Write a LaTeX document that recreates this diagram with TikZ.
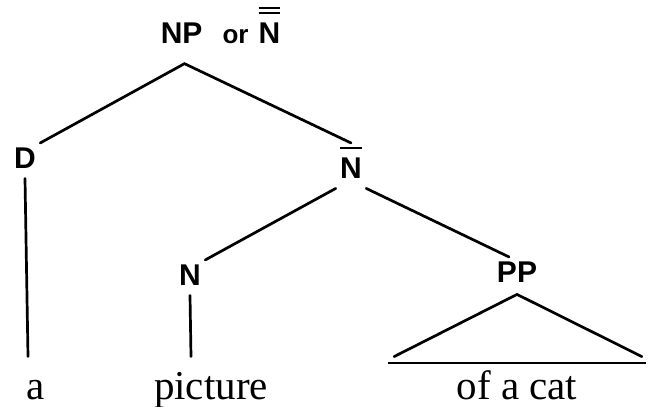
\documentclass[tikz,border=0pt]{standalone}
\usepackage{fontspec}
\setmainfont{Liberation Serif}
\newfontfamily\labfont{Liberation Sans}
\usepackage{tikz}
\newcommand{\singlebar}[1]{\setbox0\hbox{#1}\vbox{\hrule height 1pt width \wd0\kern 4pt\box0}}
\newcommand{\doublebar}[1]{\setbox0\hbox{#1}\vbox{\hrule height 1pt width \wd0\kern 1.5pt\hrule height 1pt width \wd0\kern 4pt\box0}}
\tikzstyle{catlab} = [anchor=base, inner sep=2pt, font=\labfont\bfseries\fontsize{15}{15}\selectfont]
\tikzstyle{word} = [anchor=base, inner sep=0pt, text height=18pt, text depth=0pt, font=\fontsize{20.5}{20.5}\selectfont]
\tikzset{branch/.style={line width=1.35pt, line cap=round}}

\begin{document}
\begin{tikzpicture}[x=0.5pt, y=-0.5pt]
			\useasboundingbox (0,0) rectangle (649,407);
			\node (root) [catlab] at (220.5,43) {NP\hspace{10pt}{\fontsize{13}{13}\selectfont or}\hspace{5pt}\doublebar{N}};
			\node (D) [catlab] at (25,168) {D};
			\node (Nbar) [catlab] at (351,178) {\singlebar{N}};
			\node (N) [catlab] at (190,285) {N};
			\node (PP) [catlab] at (517,282) {PP};
			\node (a) [word] at (36,399) {a};
			\node (pic) [word] at (211,399) {picture};
			\node (cat) [word, minimum width=128.5pt] at (517,399) {of a cat};
			
			
			\draw [branch] (D.north east) -- ([xshift=-18pt,yshift=-8pt]root.south) -- (Nbar.north);
			\draw [branch] ([yshift=-3pt]Nbar.south west) -- (N.north east);
			\draw [branch] ([yshift=-3pt]Nbar.south east) -- ([xshift=-4pt]PP.north);
			\draw [branch] ([yshift=-3pt]D.south) -- ([xshift=-4pt,yshift=3pt]a.north);
			\draw [branch] ([yshift=-3pt]N.south) -- ([xshift=-10pt,yshift=3pt]pic.north);
			\draw [branch] ([xshift=3pt,yshift=3pt]cat.north west) -- ([yshift=-4pt]PP.south) -- ([xshift=-2pt,yshift=3pt]cat.north east);
			\draw [line width=1pt] (cat.north west) -- (cat.north east);
			
			
\end{tikzpicture}
\end{document}
